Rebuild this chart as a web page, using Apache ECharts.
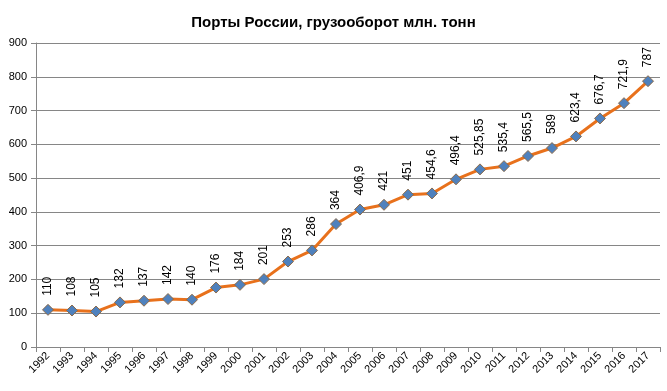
<!DOCTYPE html>
<html><head><meta charset="utf-8">
<script src="https://cdn.jsdelivr.net/npm/echarts@6/dist/echarts.min.js"></script>
<style>html,body{margin:0;padding:0;background:#fff}#c{width:667px;height:391px}</style>
</head><body><div id="c"></div>
<script>
const years = ['1992','1993','1994','1995','1996','1997','1998','1999','2000','2001','2002','2003','2004','2005','2006','2007','2008','2009','2010','2011','2012','2013','2014','2015','2016','2017'];
const cargo = [110,108,105,132,137,142,140,176,184,201,253,286,364,406.9,421,451,454.6,496.4,525.85,535.4,565.5,589,623.4,676.7,721.9,787];
const yTicks = {min:0, max:900, interval:100};
const titleText = 'Порты России, грузооборот млн. тонн';

const chart = echarts.init(document.getElementById('c'));
chart.setOption({
  animation:false,
  title:{text:titleText,left:'center',top:10,textStyle:{fontFamily:'Liberation Sans',fontWeight:'bold',fontSize:15,color:'#000'}},
  grid:{left:36,right:7,top:43,bottom:44},
  xAxis:{type:'category',data:years,boundaryGap:true,
    axisLine:{lineStyle:{color:'#868686'}},
    axisTick:{show:true,length:5,lineStyle:{color:'#868686'},alignWithLabel:false,interval:0},
    axisLabel:{rotate:45,interval:0,fontFamily:'Liberation Sans',fontSize:11,color:'#000',margin:7}},
  yAxis:{type:'value',min:yTicks.min,max:yTicks.max,interval:yTicks.interval,
    axisLine:{show:true,lineStyle:{color:'#868686'}},
    axisTick:{show:true,length:5,lineStyle:{color:'#868686'}},
    splitLine:{lineStyle:{color:'#868686'}},
    axisLabel:{fontFamily:'Liberation Sans',fontSize:11,color:'#000',margin:9}},
  series:[{type:'line',data:cargo,
    lineStyle:{color:'#E8711C',width:3},
    symbol:'diamond',symbolSize:11,
    itemStyle:{color:'#4F81BD',borderColor:'#8B6A4A',borderWidth:1},
    label:{show:true,position:'top',rotate:90,distance:8,align:'left',verticalAlign:'middle',
      fontFamily:'Liberation Sans',fontSize:12,color:'#000',
      formatter:p=>String(p.value).replace('.',',')}
  }]
});
</script></body></html>
